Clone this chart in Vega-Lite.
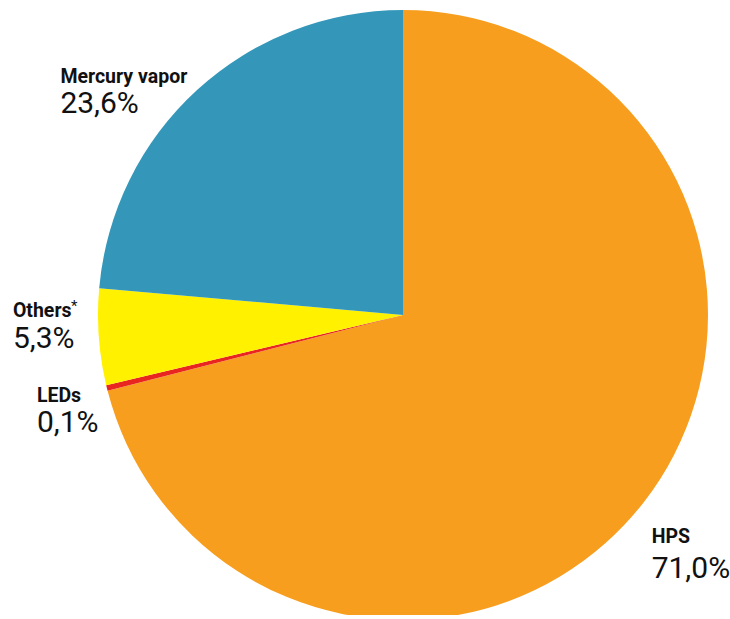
{
  "$schema": "https://vega.github.io/schema/vega-lite/v6.json",
  "width": 612,
  "height": 600,
  "autosize": {"type": "none"},
  "padding": {"left": 97, "top": 15, "right": 21, "bottom": 0},
  "background": "white",
  "config": {"view": {"stroke": null}},
  "data": {
    "values": [
      {"type": "HPS", "share": 71.0, "label": "71,0%", "rank": 1},
      {"type": "LEDs", "share": 0.3, "label": "0,1%", "rank": 2},
      {"type": "Others", "share": 5.1, "label": "5,3%", "rank": 3},
      {"type": "Mercury vapor", "share": 23.6, "label": "23,6%", "rank": 4}
    ]
  },
  "encoding": {
    "theta": {"field": "share", "type": "quantitative", "stack": true},
    "order": {"field": "rank", "type": "quantitative"}
  },
  "layer": [
    {
      "mark": {"type": "arc", "outerRadius": 305},
      "encoding": {
        "color": {
          "field": "type",
          "type": "nominal",
          "scale": {
            "domain": ["HPS", "LEDs", "Others", "Mercury vapor"],
            "range": ["#F79E1F", "#E8251F", "#FFF100", "#3497B9"]
          },
          "legend": null
        }
      }
    },
    {
      "mark": {"type": "text", "radius": 340, "align": "left", "baseline": "alphabetic", "dx": -20, "dy": 20, "font": "Roboto", "fontWeight": "bold", "fontSize": 19.5, "fill": "#111"},
      "encoding": {"text": {"condition": {"test": "datum.type === 'HPS'", "field": "type"}, "value": ""}}
    },
    {
      "mark": {"type": "text", "radius": 340, "align": "left", "baseline": "alphabetic", "dx": -20, "dy": 55, "font": "Roboto", "fontSize": 30, "fill": "#111"},
      "encoding": {"text": {"condition": {"test": "datum.type === 'HPS'", "field": "label"}, "value": ""}}
    },
    {
      "mark": {"type": "text", "radius": 340, "align": "left", "baseline": "alphabetic", "dx": -36, "dy": 5.5, "font": "Roboto", "fontWeight": "bold", "fontSize": 19.5, "fill": "#111"},
      "encoding": {"text": {"condition": {"test": "datum.type === 'LEDs'", "field": "type"}, "value": ""}}
    },
    {
      "mark": {"type": "text", "radius": 340, "align": "left", "baseline": "alphabetic", "dx": -36, "dy": 35.5, "font": "Roboto", "fontSize": 30, "fill": "#111"},
      "encoding": {"text": {"condition": {"test": "datum.type === 'LEDs'", "field": "label"}, "value": ""}}
    },
    {
      "mark": {"type": "text", "radius": 340, "align": "left", "baseline": "alphabetic", "dx": -51, "dy": -22.6, "font": "Roboto", "fontWeight": "bold", "fontSize": 19.5, "fill": "#111"},
      "encoding": {"text": {"condition": {"test": "datum.type === 'Others'", "field": "type"}, "value": ""}}
    },
    {
      "mark": {"type": "text", "radius": 340, "align": "left", "baseline": "top", "dx": 7, "dy": -41, "font": "Roboto", "fontSize": 15, "fill": "#111"},
      "encoding": {"text": {"condition": {"test": "datum.type === 'Others'", "value": "*"}, "value": ""}}
    },
    {
      "mark": {"type": "text", "radius": 340, "align": "left", "baseline": "alphabetic", "dx": -51, "dy": 8.4, "font": "Roboto", "fontSize": 30, "fill": "#111"},
      "encoding": {"text": {"condition": {"test": "datum.type === 'Others'", "field": "label"}, "value": ""}}
    },
    {
      "mark": {"type": "text", "radius": 340, "align": "left", "baseline": "alphabetic", "dx": -113, "dy": 19, "font": "Roboto", "fontWeight": "bold", "fontSize": 19.5, "fill": "#111"},
      "encoding": {"text": {"condition": {"test": "datum.type === 'Mercury vapor'", "field": "type"}, "value": ""}}
    },
    {
      "mark": {"type": "text", "radius": 340, "align": "left", "baseline": "alphabetic", "dx": -113, "dy": 49, "font": "Roboto", "fontSize": 30, "fill": "#111"},
      "encoding": {"text": {"condition": {"test": "datum.type === 'Mercury vapor'", "field": "label"}, "value": ""}}
    }
  ]
}
